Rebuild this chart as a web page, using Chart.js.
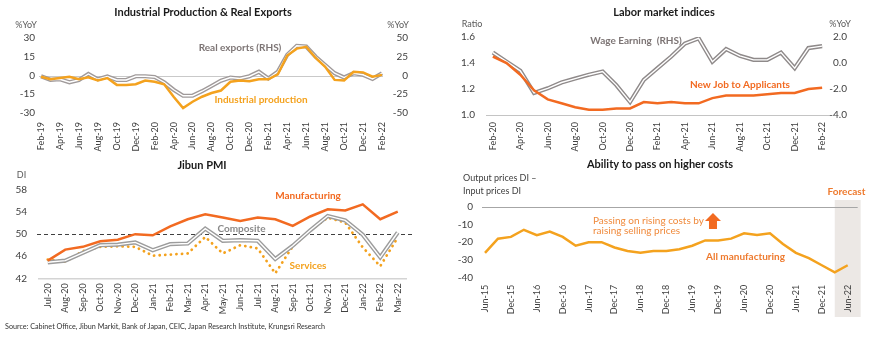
<!DOCTYPE html>
<html>
<head>
<meta charset="utf-8">
<script src="https://cdn.jsdelivr.net/npm/chart.js@4.4.1/dist/chart.umd.min.js"></script>
<style>
  body { margin: 0; background: #fff; width: 870px; height: 337px; position: relative; overflow: hidden; font-family: Lato, sans-serif; }
  canvas { position: absolute; }
  #source { position: absolute; left: 5px; top: 322px; font-size: 7.2px; color: #333; white-space: nowrap; }
</style>
</head>
<body>
<canvas id="ipChart" width="430" height="155" style="left:0;top:0"></canvas>
<canvas id="laborChart" width="440" height="155" style="left:430px;top:0"></canvas>
<canvas id="pmiChart" width="430" height="165" style="left:0;top:150px"></canvas>
<canvas id="costChart" width="440" height="170" style="left:430px;top:150px"></canvas>
<div id="source">Source: Cabinet Office, Jibun Markit, Bank of Japan, CEIC, Japan Research Institute, Krungsri Research</div>
<script>
// Industrial production & real exports (%YoY)
const ipMonths = ['Feb-19','Mar-19','Apr-19','May-19','Jun-19','Jul-19','Aug-19','Sep-19','Oct-19','Nov-19','Dec-19',
  'Jan-20','Feb-20','Mar-20','Apr-20','May-20','Jun-20','Jul-20','Aug-20','Sep-20','Oct-20','Nov-20','Dec-20',
  'Jan-21','Feb-21','Mar-21','Apr-21','May-21','Jun-21','Jul-21','Aug-21','Sep-21','Oct-21','Nov-21','Dec-21',
  'Jan-22','Feb-22'];
const industrialProd = [-1, -3, -2, -1, -3, -1.5, -4, -2, -7.5, -7.5, -7, -4, -5, -7, -17, -26, -21, -17, -14, -12,
  -5, -4, -4.5, -3, -3, 1, 16, 21.5, 23, 14, 7, -3.5, -4, 3, 2.5, -1, 0.5];
const realExports = [-1, -5.7, -5, -9, -6, 2, -5, -1.3, -6, -6, -1, -1, -2, -9, -19, -27, -27, -21, -14, -7,
  -2.7, -4, -1, 5, -4, 5, 27.6, 39.6, 38.7, 25, 14, 3, -2.7, 3, 1, -4.5, 3];

// Labor market: jobs-to-applicants ratio and wage earnings (%YoY)
const laborMonths = ['Feb-20','Mar-20','Apr-20','May-20','Jun-20','Jul-20','Aug-20','Sep-20','Oct-20','Nov-20','Dec-20',
  'Jan-21','Feb-21','Mar-21','Apr-21','May-21','Jun-21','Jul-21','Aug-21','Sep-21','Oct-21','Nov-21','Dec-21',
  'Jan-22','Feb-22'];
const jobsToApplicants = [1.45, 1.40, 1.31, 1.19, 1.12, 1.09, 1.06, 1.04, 1.04, 1.05, 1.05, 1.10, 1.09, 1.10, 1.09,
  1.09, 1.13, 1.15, 1.15, 1.15, 1.16, 1.17, 1.17, 1.20, 1.21];
const wageEarnings = [0.8, 0.1, -0.6, -2.3, -1.95, -1.5, -1.2, -0.9, -0.65, -1.7, -3.0, -1.3, -0.4, 0.5, 1.5, 1.9,
  0.1, 1.07, 0.55, 0.24, 0.24, 0.8, -0.4, 1.15, 1.3];

// Jibun PMI (DI)
const pmiMonths = ['Jul-20','Aug-20','Sep-20','Oct-20','Nov-20','Dec-20','Jan-21','Feb-21','Mar-21','Apr-21','May-21',
  'Jun-21','Jul-21','Aug-21','Sep-21','Oct-21','Nov-21','Dec-21','Jan-22','Feb-22','Mar-22'];
const pmiManufacturing = [45.2, 47.2, 47.7, 48.7, 49.0, 50.0, 49.8, 51.4, 52.7, 53.6, 53.0, 52.4, 53.0, 52.7, 51.5,
  53.2, 54.5, 54.3, 55.4, 52.7, 54.1];
const pmiComposite = [44.9, 45.2, 46.6, 48.0, 48.1, 48.5, 47.1, 48.2, 48.3, 51.0, 48.8, 48.9, 48.8, 45.5, 47.9,
  50.7, 53.3, 52.5, 49.9, 45.8, 50.3];
const pmiServices = [45.4, 45.0, 46.9, 47.7, 47.8, 47.7, 46.1, 46.3, 46.5, 49.5, 46.5, 48.0, 47.4, 42.9, 47.8,
  50.7, 53.0, 52.1, 47.6, 44.2, 49.4];

// Tankan: output prices DI minus input prices DI, all manufacturing
const tankanQuarters = ['Jun-15','Sep-15','Dec-15','Mar-16','Jun-16','Sep-16','Dec-16','Mar-17','Jun-17','Sep-17',
  'Dec-17','Mar-18','Jun-18','Sep-18','Dec-18','Mar-19','Jun-19','Sep-19','Dec-19','Mar-20','Jun-20','Sep-20',
  'Dec-20','Mar-21','Jun-21','Sep-21','Dec-21','Mar-22','Jun-22'];
const priceGap = [-26, -18, -17, -13, -16, -14, -17, -22, -20, -20, -23, -25, -26, -25, -25, -24, -22, -19, -19,
  -18, -15, -16, -15, -21, -26, -29, -33, -37, -33];
const forecastFrom = 27; // Mar-22 onward is forecast

Chart.defaults.font.family = 'Lato, "Open Sans", sans-serif';
Chart.defaults.color = '#404040';

const ORANGE = '#F26A21';
const AMBER = '#F4A21E';
const GREY = '#a09a9a';
const TITLE = 'bold 11px Lato';
const NOTE = 'bold 10px Lato';
const UNIT = '9px Lato';

// texts, reference lines, shaded band and arrow for one chart
function annotations(cfg) {
  return {
    id: 'annotations',
    beforeDraw(chart) {
      const ctx = chart.ctx;
      (cfg.bands || []).forEach(b => {
        const x = chart.scales.x;
        const x1 = x.getPixelForValue(b.from), x2 = x.getPixelForValue(b.to);
        ctx.save();
        ctx.fillStyle = b.color;
        ctx.fillRect(x1, b.top, x2 - x1, b.bottom - b.top);
        ctx.restore();
      });
    },
    beforeDatasetsDraw(chart) {
      const ctx = chart.ctx, area = chart.chartArea;
      (cfg.lines || []).forEach(l => {
        const y = Math.round(chart.scales[l.axis || 'y'].getPixelForValue(l.value)) + 0.5;
        ctx.save();
        ctx.strokeStyle = l.color;
        ctx.lineWidth = l.width || 1;
        ctx.setLineDash(l.dash || []);
        ctx.beginPath();
        ctx.moveTo(area.left - (l.extendLeft || 0), y);
        ctx.lineTo(area.right + (l.extendRight || 0), y);
        ctx.stroke();
        ctx.restore();
      });
    },
    afterDraw(chart) {
      const ctx = chart.ctx;
      (cfg.arrows || []).forEach(a => {
        const x = chart.scales.x.getPixelForValue(a.x);
        const y0 = chart.scales.y.getPixelForValue(a.from);
        const y1 = chart.scales.y.getPixelForValue(a.to);
        const hw = 8, sw = 4, hh = 8;
        ctx.save();
        ctx.fillStyle = a.color;
        ctx.beginPath();
        ctx.moveTo(x - sw, y0);
        ctx.lineTo(x - sw, y1 + hh);
        ctx.lineTo(x - hw, y1 + hh);
        ctx.lineTo(x, y1);
        ctx.lineTo(x + hw, y1 + hh);
        ctx.lineTo(x + sw, y1 + hh);
        ctx.lineTo(x + sw, y0);
        ctx.closePath();
        ctx.fill();
        ctx.restore();
      });
      (cfg.texts || []).forEach(t => {
        ctx.save();
        ctx.font = t.font;
        ctx.fillStyle = t.color;
        ctx.textAlign = t.align || 'center';
        ctx.textBaseline = 'middle';
        ctx.fillText(t.text, t.x, t.y);
        ctx.restore();
      });
    }
  };
}

// shared axis pieces
function xAxis(height, pad, every, offset) {
  return {
    offset: offset,
    grid: { display: false, drawTicks: false },
    border: { display: false },
    ticks: {
      autoSkip: false, maxRotation: 90, minRotation: 90, padding: pad, font: { size: 9 },
      callback: function (v, i) { return i % every === 0 ? this.getLabelForValue(v) : null; }
    },
    afterFit: s => { s.height = height; }
  };
}
function yAxis(pos, min, max, step, width, pad, fmt) {
  return {
    position: pos, min: min, max: max,
    grid: { display: false, drawTicks: false },
    border: { display: false },
    ticks: {
      stepSize: step, padding: pad, font: { size: 10 },
      crossAlign: pos === 'right' ? 'far' : 'near',
      callback: fmt || (v => v)
    },
    afterFit: s => { s.width = width; }
  };
}
function line(data, color, width, axis, order, extra) {
  return Object.assign({
    data: data, borderColor: color, borderWidth: width, yAxisID: axis || 'y',
    pointRadius: 0, tension: 0, fill: false, order: order
  }, extra || {});
}
const base = { responsive: false, animation: false, devicePixelRatio: 1,
  plugins: { legend: { display: false }, tooltip: { enabled: false } } };

// Industrial Production & Real Exports
new Chart(document.getElementById('ipChart'), {
  type: 'line',
  data: {
    labels: ipMonths,
    datasets: [
      line(industrialProd, AMBER, 2.5, 'y', 0),
      line(realExports, '#fff', 1.4, 'y1', 1),
      line(realExports, GREY, 4.2, 'y1', 2)
    ]
  },
  options: Object.assign({}, base, {
    layout: { padding: { top: 38, right: 22, left: 0, bottom: 0 } },
    scales: {
      x: xAxis(42, 9, 2, false),
      y: yAxis('left', -30, 30, 15, 41, 6),
      y1: yAxis('right', -50, 50, 25, 26, 4)
    }
  }),
  plugins: [annotations({
    lines: [{ value: 0, color: '#c9c9c9', extendLeft: 2, extendRight: 1 }],
    texts: [
      { text: 'Industrial Production & Real Exports', x: 203, y: 12, font: TITLE, color: '#1a1a1a' },
      { text: '%YoY', x: 26, y: 25, font: UNIT, color: '#595959' },
      { text: '%YoY', x: 398, y: 25, font: UNIT, color: '#595959' },
      { text: 'Real exports (RHS)', x: 240, y: 48, font: NOTE, color: '#7d7575' },
      { text: 'Industrial production', x: 261, y: 100, font: NOTE, color: AMBER }
    ]
  })]
});

// Labor market indices
new Chart(document.getElementById('laborChart'), {
  type: 'line',
  data: {
    labels: laborMonths,
    datasets: [
      line(jobsToApplicants, ORANGE, 2.5, 'y', 0),
      line(wageEarnings, '#fff', 1.4, 'y1', 1),
      line(wageEarnings, '#8f8a8a', 4.2, 'y1', 2)
    ]
  },
  options: Object.assign({}, base, {
    layout: { padding: { top: 37, right: 23, left: 0, bottom: 0 } },
    scales: {
      x: Object.assign(xAxis(40, 7, 2, true), { border: { display: true, color: '#c4c4c4' } }),
      y: yAxis('left', 1.0, 1.6, 0.2, 56, 11, v => v.toFixed(1)),
      y1: yAxis('right', -4, 2, 2, 18, 4, v => v.toFixed(1))
    }
  }),
  plugins: [annotations({
    texts: [
      { text: 'Labor market indices', x: 234, y: 12, font: TITLE, color: '#1a1a1a' },
      { text: 'Ratio', x: 42, y: 24, font: UNIT, color: '#595959' },
      { text: '%YoY', x: 410, y: 24, font: UNIT, color: '#595959' },
      { text: 'Wage Earning  (RHS)', x: 206, y: 41, font: NOTE, color: '#7d7575' },
      { text: 'New Job to Applicants', x: 310, y: 85, font: NOTE, color: ORANGE }
    ]
  })]
});

// Jibun PMI
new Chart(document.getElementById('pmiChart'), {
  type: 'line',
  data: {
    labels: pmiMonths,
    datasets: [
      line(pmiManufacturing, ORANGE, 2.5, 'y', 0),
      line(pmiComposite, '#fff', 1.4, 'y', 1),
      line(pmiComposite, '#9c9c9c', 4.2, 'y', 2),
      line(pmiServices, AMBER, 2.8, 'y', 3, { borderDash: [0.1, 5.5], borderCapStyle: 'round' })
    ]
  },
  options: Object.assign({}, base, {
    layout: { padding: { top: 40, right: 23.5, left: 0, bottom: 0 } },
    scales: {
      x: Object.assign(xAxis(36.7, 5, 1, true), { border: { display: true, color: '#d4d4d4', width: 1.5 } }),
      y: yAxis('left', 42, 58, 4, 39, 12)
    }
  }),
  plugins: [annotations({
    lines: [{ value: 50, color: '#404040', dash: [4, 3], extendLeft: 2, extendRight: 6 }],
    texts: [
      { text: 'Jibun PMI', x: 202, y: 15, font: TITLE, color: '#1a1a1a' },
      { text: 'DI', x: 21.5, y: 25, font: UNIT, color: '#595959' },
      { text: 'Manufacturing', x: 308, y: 45.7, font: NOTE, color: ORANGE },
      { text: 'Composite', x: 241.5, y: 79, font: NOTE, color: '#8a8a8a' },
      { text: 'Services', x: 308, y: 116, font: NOTE, color: AMBER }
    ]
  })]
});

// Ability to pass on higher costs
new Chart(document.getElementById('costChart'), {
  type: 'line',
  data: {
    labels: tankanQuarters,
    datasets: [line(priceGap, AMBER, 2.5, 'y', 0)]
  },
  options: Object.assign({}, base, {
    layout: { padding: { top: 56.7, right: 22.3, left: 0, bottom: 0 } },
    scales: {
      x: xAxis(42.3, 7, 2, false),
      y: yAxis('left', -40, 0, 10, 55, 12)
    }
  }),
  plugins: [annotations({
    bands: [{ from: forecastFrom, to: tankanQuarters.length, top: 50, bottom: 167, color: '#ece8e5' }],
    lines: [{ value: 0, color: '#a6a6a6', extendLeft: 3, extendRight: 10 }],
    arrows: [{ x: 17.6, from: -12.6, to: -3.5, color: ORANGE }],
    texts: [
      { text: 'Ability to pass on higher costs', x: 230, y: 14, font: TITLE, color: '#1a1a1a' },
      { text: 'Output prices DI \u2013', x: 33, y: 28, font: UNIT, color: '#404040', align: 'left' },
      { text: 'Input prices DI', x: 33, y: 40.7, font: UNIT, color: '#404040', align: 'left' },
      { text: 'Forecast', x: 416.5, y: 42, font: NOTE, color: '#ee7a2e' },
      { text: 'Passing on rising costs by', x: 163, y: 70.7, font: '10px Lato', color: '#f08a3c', align: 'left' },
      { text: 'raising selling prices', x: 163, y: 80.5, font: '10px Lato', color: '#f08a3c', align: 'left' },
      { text: 'All manufacturing', x: 315.5, y: 106.7, font: NOTE, color: '#ee7a2e' }
    ]
  })]
});
</script>
</body>
</html>
